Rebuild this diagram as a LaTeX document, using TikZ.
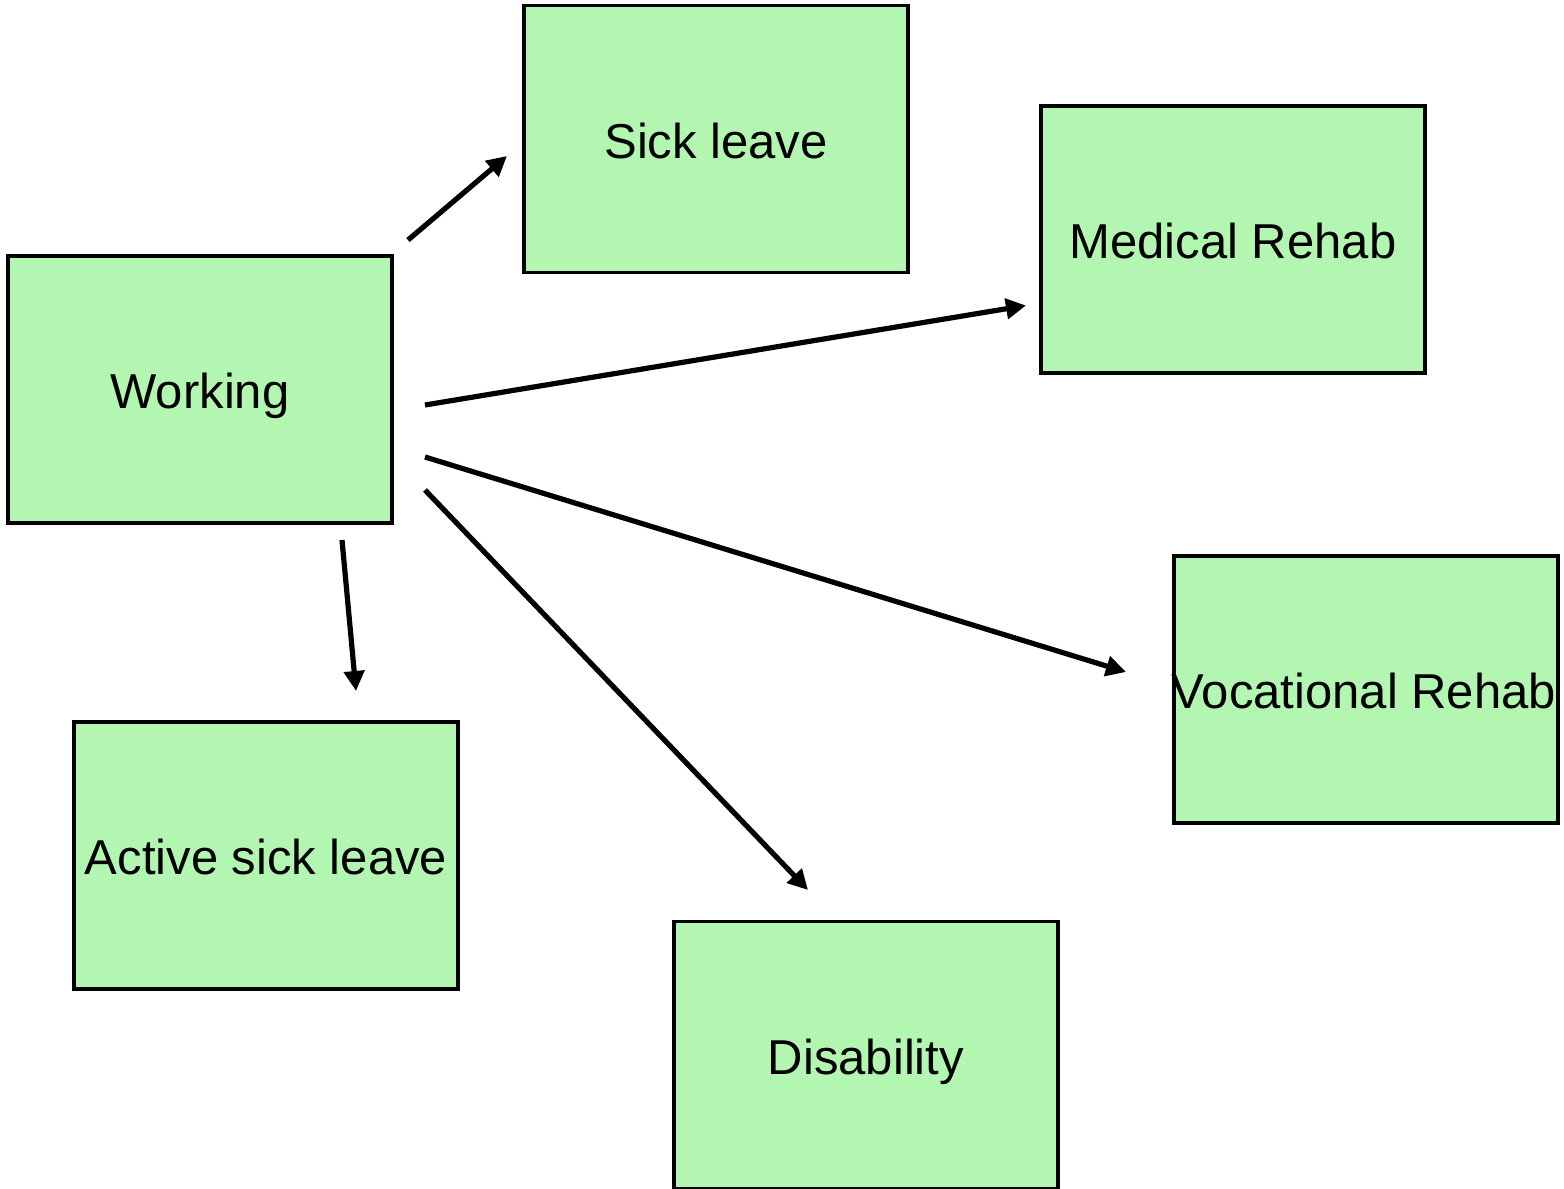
\documentclass[tikz,border=0pt]{standalone}
\usepackage{fontspec}
\setmainfont{Liberation Sans}
\usetikzlibrary{arrows.meta,calc}
\definecolor{boxgreen}{RGB}{178,246,178}
\begin{document}
\begin{tikzpicture}[x=0.5pt,y=-0.5pt,
  box/.style={draw=black,line width=1.75pt,fill=boxgreen,minimum width=192pt,minimum height=133.5pt,inner sep=0pt},
  txt/.style={font=\fontsize{24.5pt}{28pt}\selectfont,inner sep=0pt,anchor=base},
  arr/.style={line width=2.6pt,-{Triangle[length=10pt,width=10pt]}}]
\useasboundingbox (0,0) rectangle (1564,1189);
\node[box] (sick) at (716,139) {};
\node[txt] (sicktext) at ($(sick)+(0,19)$) {Sick leave};
\node[box] (med) at (1233,239.5) {};
\node[txt] (medtext) at ($(med)+(0,19)$) {Medical Rehab};
\node[box] (work) at (200,389.5) {};
\node[txt] (worktext) at ($(work)+(0,19)$) {Working};
\node[box] (voc) at (1366,689.5) {};
\node[txt] (voctext) at ($(voc)+(-2,19)$) {Vocational Rehab};
\node[box] (act) at (266,855.5) {};
\node[txt] (acttext) at ($(act)+(0,19)$) {Active sick leave};
\node[box] (dis) at (866,1055) {};
\node[txt] (distext) at ($(dis)+(0,19)$) {Disability};
% arrow end points
\coordinate (a1s) at (408,240);  \coordinate (a1e) at (507,156);
\coordinate (a2s) at (425,405);  \coordinate (a2e) at (1026,305.5);
\coordinate (a3s) at (425,457);  \coordinate (a3e) at (1126,672);
\coordinate (a4s) at (425,490);  \coordinate (a4e) at (808,890);
\coordinate (a5s) at (342,540);  \coordinate (a5e) at (356,691);
\draw[arr] (a1s) -- (a1e);
\draw[arr] (a2s) -- (a2e);
\draw[arr] (a3s) -- (a3e);
\draw[arr] (a4s) -- (a4e);
\draw[arr] (a5s) -- (a5e);
\end{tikzpicture}
\end{document}
